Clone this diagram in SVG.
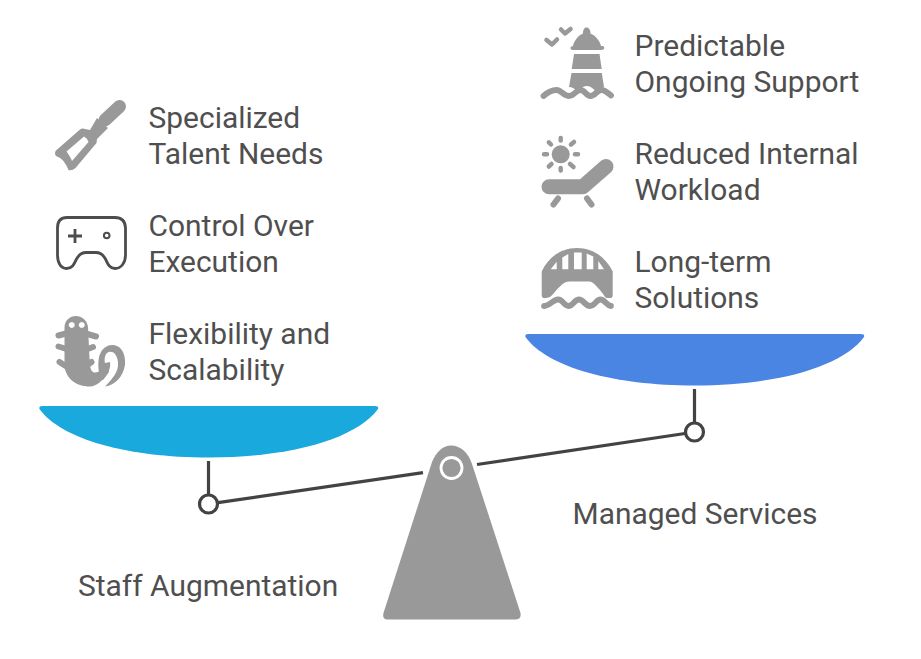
<svg xmlns="http://www.w3.org/2000/svg" width="921" height="659" viewBox="0 0 921 659">
<style>
text{font-family:Roboto,"Liberation Sans",sans-serif;font-size:29.95px;fill:#4f4f4f}
.i{fill:#999}
.l{fill:none;stroke:#999;stroke-linecap:round;stroke-linejoin:round}
.c{fill:none;stroke:#434343;stroke-width:3.2}
.g{fill:none;stroke:#4d4d4d;stroke-width:2.800}
</style>
<rect width="921" height="659" fill="#fff"/>
<g id="connectors">
<path class="c" d="M208.500 461V494"/>
<path class="c" d="M694.500 389V422"/>
<path class="c" d="M218 502.600L423 472.600"/>
<path class="c" d="M477 464.500L685 433.500"/>
<circle class="c" cx="208.500" cy="504" r="9"/>
<circle class="c" cx="694.500" cy="432" r="9"/>
</g>
<g id="pivot">
<path class="i" d="M432 462C436 452 443 445.500 451 445.500C460 445.500 468 452 472 464L520.500 613Q521.500 619 516 619.500H387Q382 619 383.500 613Z"/>
<circle cx="451.500" cy="468" r="10.500" fill="none" stroke="#fff" stroke-width="2.800"/>
</g>
<g id="staff-augmentation">
<path fill="#1aa9dc" d="M42 406H375Q379 406 378 409C356 439 290 457.500 208.500 457.500C127 457.500 61 439 39.500 409Q38.500 406 42 406Z"/>
<text x="78" y="596">Staff Augmentation</text>
</g>
<g id="managed-services">
<path fill="#4a85e4" d="M528 334H861Q865 334 864 337C842 367 776 385.500 694.500 385.500C613 385.500 547 367 525.500 337Q524.500 334 528 334Z"/>
<text x="572.500" y="523.500">Managed Services</text>
</g>
<g id="specialized-talent">
<path class="l" stroke-width="13" d="M119.500 106.500L105 120"/>
<path class="i" fill-rule="evenodd" d="M97 118L108 128L97 139L96.500 143L75.500 168Q72 171 68.500 170Q66 164 63 160.500Q60 157 56 156Q54 153 56 150.500L80 129.500Q82 128 85 129L90 130ZM84 136.500L66.500 151.500C69 155 71 158 72 161L88.500 142Q87 138 84 136.500Z"/>
<text x="148.500" y="127.500">Specialized</text><text x="148.500" y="163.500">Talent Needs</text>
</g>
<g id="control-execution">
<path class="g" d="M67 217.500H115Q125 217.500 125.500 228V255C125.500 263 121 268.500 115 268.500C109 268.500 107.500 263 105.500 259C103 254.500 100 252.500 96 252.500H86C82 252.500 79 254.500 76.500 259C74.500 263 73 268.500 66.500 268.500C61 268.500 57.500 263 57.500 255V228Q57.500 217.500 67 217.500Z"/>
<path class="g" d="M75 229V243M68 236H82"/>
<circle cx="106.700" cy="235.500" r="2.800" fill="none" stroke="#4d4d4d" stroke-width="2"/>
<text x="148.500" y="235.500">Control Over</text><text x="148.500" y="271.500">Execution</text>
</g>
<g id="flexibility-scalability">
<path class="i" fill-rule="evenodd" d="M75.700 316C82 316 87 320 88 327L89.500 358C90 365 90 370 93 372C97 374 102 370 106 364L109 372C103 380 97 386.500 90 386.500C76 386.500 65 378 64.500 365L64.500 327C65 320 70 316 75.700 316ZM71.700 322A3 3 0 1 0 71.800 322ZM81.700 322A3 3 0 1 0 81.800 322Z"/>
<path class="l" stroke-width="6" d="M58.500 335.500L68 333M96 336.500L84 333M58.500 346.500L68 349.500M93 347L85 350M59.500 362L68 367.500M91.500 362L86 366"/>
<path class="i" d="M99 372C97 358 100 346 112 345C122 345 126 355 125 365C123 377 115 385 105 386.500C112 379 119 372 118 362C117 354 113 351 109 352C105 353 104 359 105 363L110 362C111 368 108 374 103 380L97 380Z"/>
<text x="148.500" y="343.500">Flexibility and</text><text x="148.500" y="379.500">Scalability</text>
</g>
<g id="predictable-support">
<path class="l" stroke-width="4.500" d="M546.500 40L552 44.500L557 39.500M561 29.500L565 33.500L570.500 29"/>
<path class="i" d="M586.500 27.500C589 27.500 590.500 30 590.500 33.500C595.500 35.500 600 41 601 46H603Q605 47 604 49Q603 50 601 50H572Q570 49 570.500 47.500Q571 46 573 46C574 41 578 35.500 583 33.500C583 30 584 27.500 586.500 27.500Z"/>
<path class="i" d="M574 54H599.500L601.700 69H571.700Z"/>
<path class="i" d="M571.500 73H601.800L604 87C600 87.500 597 90 596 91.500C593 88 590 86 586.500 86C583 86 580 88.500 577.500 91.500C575 88.500 572 87 569 87Z"/>
<path class="l" stroke-width="5.800" d="M543.500 96C548 92 552 90 556.500 90C561 90 564 96 569 96C574 96 576 90 580.500 90C585 90 586 96 590.500 96C595 96 597 90 601.500 90C605 90 608 93 611 95.500"/>
<text x="634.500" y="55.500">Predictable</text><text x="634.500" y="91.500">Ongoing Support</text>
</g>
<g id="reduced-workload">
<circle class="i" cx="560.700" cy="154.300" r="9"/>
<path class="l" stroke-width="4.500" d="M560.700 138V140.500M560.700 168V170.500M544 154.300H547M575 154.300H578M548.800 142.300L551 144.500M574 142L571 144.500M548.800 166.500L551.500 164M570 164L573.500 167"/>
<path class="l" stroke-width="15" d="M549 186.700H583L606 166.500"/>
<path class="l" stroke-width="6" d="M553.500 204.500L558 198.500M591.500 204.500L587 198.500"/>
<text x="634.500" y="163.500">Reduced Internal</text><text x="634.500" y="199.500">Workload</text>
</g>
<g id="long-term">
<path class="i" fill-rule="evenodd" d="M577 248C594 248 606 258 612.700 271.500V295Q612.700 298.500 610 298C607 298 606 298 605 297C602 292 600 290 598 288C594 283 592 281.500 588 281.500H570C566 281.500 563 283 560 286.500C556 290 553 295 550 297Q546 298.500 544 298Q541.700 298 541.700 295V271.500C548 258 560 248 577 248ZM550.700 269.300L556.700 261.700V269.300ZM562.300 257.500L568.300 254V269.300H562.300ZM574 252.500H581.700V269.300H574ZM586.700 253.500L593.300 256.500V269.300H586.700ZM598.300 261L604 269.300H598.300Z"/>
<path class="l" stroke-width="5.800" d="M544 306C549 306.500 553 299.500 558 299.500C563 299.500 564 306 568.500 306C573 306 574.500 299.500 579 299.500C583.500 299.500 585 306 590 306C595 306 596 299.500 600.500 299.500C605 299.500 606 305.500 611 306"/>
<text x="634.500" y="271.500">Long-term</text><text x="634.500" y="307.500">Solutions</text>
</g>
</svg>
